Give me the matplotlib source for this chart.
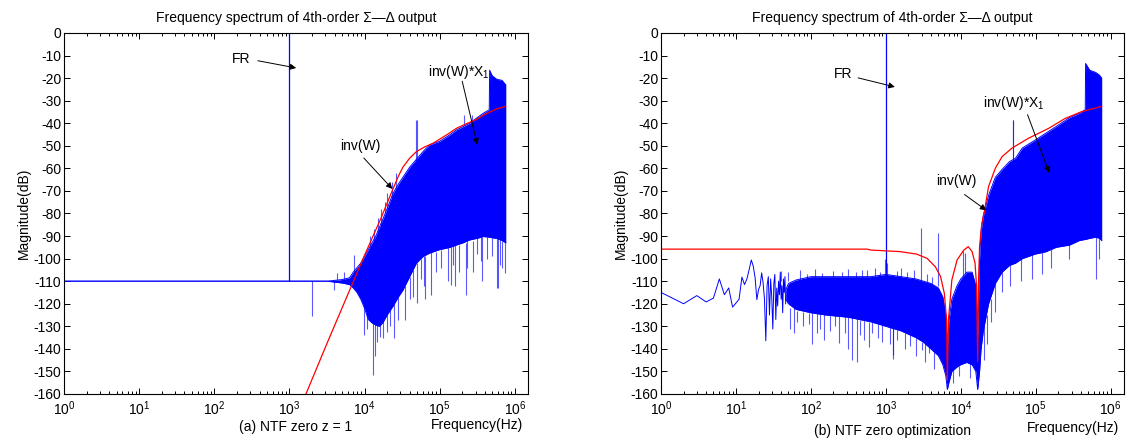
import numpy as np
import matplotlib
matplotlib.use("Agg")
import matplotlib.pyplot as plt
from matplotlib.ticker import LogLocator, FixedLocator, FuncFormatter, NullFormatter

plt.rcParams['font.family'] = ['Liberation Sans', 'DejaVu Sans']
plt.rcParams['mathtext.fontset'] = 'custom'
plt.rcParams['mathtext.rm'] = 'Liberation Sans'
plt.rcParams['mathtext.it'] = 'Liberation Sans'
plt.rcParams['mathtext.bf'] = 'Liberation Sans:bold'

# ---------------- data (frequencies as log10(Hz), magnitudes in dB) ----------------
title_text = "Frequency spectrum of 4th-order \u03a3\u2014\u0394 output"
caption_a = "(a) NTF zero z = 1"
caption_b = "(b) NTF zero optimization"
yticks = [0, -10, -20, -30, -40, -50, -60, -70, -80, -90, -100, -110, -120, -130, -140, -150, -160]
xtick_exponents = [0, 1, 2, 3, 4, 5, 6]

fr_freq = 1e3
fr_a = [-110, 0]
fr_b = [-107, 0]

# panel (a): dense noise core (lower / upper envelope)
env_a_log10f = [0, 3.5, 3.7, 3.8, 3.85, 3.9, 3.95, 4.0, 4.05, 4.1, 4.15, 4.2, 4.25, 4.3, 4.38,
                4.45, 4.51, 4.6, 4.69, 4.78, 4.87, 5.0, 5.14, 5.22, 5.31, 5.4, 5.5, 5.58, 5.66,
                5.665, 5.7, 5.76, 5.83, 5.88]
env_a_lo = [-110, -110, -110.8, -111.5, -113, -115, -118, -122, -127, -128.5, -129.5, -130, -128,
            -125, -121, -117, -114, -108, -102, -99, -97.5, -96, -95, -94, -93, -91.7, -91, -90.2,
            -90.5, -90.5, -90.8, -91, -92, -93]
env_a_hi = [-110, -110, -109.3, -108.5, -106, -104, -102, -99, -96, -93, -90, -86, -82, -78, -71,
            -67, -64, -59.5, -56, -52.5, -49.5, -48, -45, -43, -41.5, -40, -37.5, -35.6, -34,
            -16.5, -19, -20.5, -21, -23]
# panel (a): isolated spikes
spk_a_log10f = [3.30, 3.59, 3.63, 3.72, 3.86, 3.97, 3.99, 4.03, 4.116, 4.135, 4.16, 4.21, 4.24,
                4.30, 4.34, 4.39, 4.44, 4.535, 4.22, 4.30, 4.36, 4.42, 4.68, 4.70, 4.70, 4.79,
                4.80, 4.89, 5.11, 5.15, 5.21, 5.26, 5.33, 5.35, 5.37, 5.43, 5.44, 5.55, 5.56,
                5.76, 5.78, 5.83, 5.87, 4.60, 4.64, 4.75, 4.95, 5.02, 5.18, 5.50, 5.63, 5.70,
                5.80, 4.07, 4.12, 4.18, 4.27]
spk_a_top = [-110, -110, -106.5, -106, -98.4, -101.6, -110, -115, -128, -128, -128, -129, -127,
             -124, -122, -120, -117, -112, -85, -78, -73, -69, -57, -57, -102, -99, -99, -97,
             -95, -95, -94, -94, -41, -93, -92, -39, -92, -90.5, -90.5, -91, -91, -92, -92,
             -108, -105, -100, -97, -96, -94.5, -91, -90.5, -90.8, -91.5, -95, -92, -88, -80]
spk_a_bot = [-125.5, -113.7, -110, -110, -111, -118, -133.9, -131, -151.6, -143, -137, -134.6,
             -135, -132.6, -130, -135.3, -127, -127, -78, -71, -66, -62, -38.6, -38.6, -119.6,
             -112, -118, -116, -110, -111.7, -112.3, -106, -36.4, -116, -104, -36.5, -106, -101,
             -110, -113, -113, -104, -106.4, -118, -117, -109, -106, -104, -103, -98, -100, -99,
             -103, -90, -87, -82, -75]
# panel (a): inv(W)
red_a_log10f = [3.10, 3.22, 3.5, 3.84, 4.0, 4.22, 4.38, 4.45, 4.51, 4.6, 4.69, 4.8, 4.91, 5.11,
                5.22, 5.35, 5.49, 5.59, 5.76, 5.88]
red_a_db = [-170, -160, -137.6, -111, -98.5, -82, -69, -63.5, -59.5, -55.5, -52.6, -50.5, -48.9,
            -44.8, -42.3, -40.3, -38.3, -36.3, -33.6, -32.5]

# panel (b): individual low-frequency bins (Hz)
bins_b_f = [1, 2, 3, 4, 5, 6, 7, 8, 9, 10, 11, 12, 13, 14, 15, 16, 17, 18, 19, 20, 21, 22, 23,
            24, 25, 26, 27, 28, 29, 30, 31, 32, 33, 34, 35, 36, 37, 38, 39, 40, 41, 42, 43, 44,
            45, 46]
bins_b_db = [-115, -120, -116.4, -119.2, -117.5, -109, -116, -113, -121.5, -119.7, -118, -108.2,
             -111.5, -109, -104.8, -100.6, -103.3, -108.5, -118.2, -113.7, -112, -106.3, -110.7,
             -118, -136.4, -112, -108, -125, -109, -117, -131.2, -111, -107, -127, -113, -121,
             -110, -116, -106, -118, -112, -124, -109, -115, -108, -120]
# panel (b): dense noise core
env_b_log10f = [1.663, 1.7, 1.8, 2.0, 2.2, 2.5, 2.8, 3.0, 3.2, 3.4, 3.5, 3.6, 3.7, 3.76,
                3.8, 3.82, 3.84, 3.88, 3.95, 4.0, 4.08, 4.15, 4.2, 4.225, 4.25, 4.27, 4.3, 4.37,
                4.46, 4.55, 4.65, 4.73, 4.82, 4.99, 5.13, 5.27, 5.45, 5.58, 5.66, 5.665, 5.72,
                5.8, 5.85, 5.88]
env_b_lo = [-118, -120, -122.5, -124, -125, -126, -128, -130, -132, -135, -137, -140,
            -143, -147, -152, -158, -155, -150, -148, -147, -146, -147, -150, -158, -150, -140,
            -132, -120, -111, -106, -103, -102, -100, -98, -97, -95, -94, -92, -91.5, -91.5,
            -91, -90.5, -91, -92]
env_b_hi = [-114, -111, -109.5, -108, -108, -108, -108, -107, -108, -109, -110, -111,
            -113, -117, -125, -140, -128, -118, -112, -109, -106, -106, -112, -135, -100, -88,
            -81, -72, -64, -60.5, -57, -55.5, -51, -47.5, -44.5, -41.5, -37.5, -35.6, -34,
            -13.5, -16.5, -17.5, -18.7, -20]
# panel (b): isolated spikes
spk_b_log10f = [1.60, 2.15, 2.6, 2.75, 2.99, 3.01, 3.2, 3.47, 3.69, 4.03, 4.06, 4.69, 4.70,
                1.77, 2.08, 2.17, 2.37, 2.55, 2.61, 2.71, 3.09, 3.10, 3.32,
                3.48, 3.58, 4.31, 4.345, 4.40, 4.46, 4.55, 4.65, 4.80, 4.95, 5.08, 5.20, 5.44,
                5.81, 5.85,
                1.70, 1.85, 1.95, 2.05, 2.30, 2.42, 2.50, 2.68, 2.85, 2.92, 3.15, 3.28, 3.38,
                3.55, 3.62,
                1.72, 1.82, 1.90, 1.98, 2.02, 2.12, 2.25, 2.32, 2.45, 2.50, 2.65, 2.78, 2.82,
                2.90, 2.95, 3.05, 3.15, 3.25, 3.40, 3.52, 3.64, 3.90, 3.98, 4.12]
spk_b_top = [-110, -110, -110, -110, -108, -108, -109, -110, -112, -109, -107, -57, -57,
             -122, -124, -124, -125, -126, -126, -127, -130, -130, -133,
             -137, -139, -130, -125, -118, -111, -106, -103, -100, -98, -97, -95, -94,
             -90.5, -91,
             -110, -110, -110, -110, -110, -110, -110, -110, -110, -110, -110, -110, -110,
             -111, -112,
             -122, -123, -123.5, -124, -124, -124.5, -125, -125, -126, -126, -127, -128, -128,
             -129, -129.5, -130.5, -131.5, -133, -135, -137.5, -141, -149, -147.5, -146]
spk_b_bot = [-105.6, -106.4, -106, -105, -100, -102, -104, -86.4, -88.8, -96, -97.5, -38.6,
             -38.6, -133, -133, -136, -137.4, -144.8, -145.9, -136,
             -142.5, -144.4, -138.8, -140.3, -141.8, -145, -138, -128, -123.6, -115, -112,
             -110, -109, -107, -104, -100, -109, -100,
             -106, -105, -107, -104.5, -105.5, -106, -104.5, -105, -104, -106, -105.5, -106,
             -105, -107, -108,
             -131, -128, -130, -129, -138, -131, -132, -130, -133, -140, -134, -139, -133,
             -135, -137, -138, -136, -140, -143, -146, -149, -155, -152, -153]
# panel (b): inv(W)
red_b_log10f = [0, 2.75, 2.8, 3.19, 3.41, 3.55, 3.66, 3.73, 3.78, 3.81, 3.82, 3.835, 3.85, 3.88,
                3.95, 4.04, 4.10, 4.15, 4.19, 4.21, 4.225, 4.235, 4.25, 4.28, 4.31, 4.37, 4.46,
                4.55, 4.68, 4.90, 5.17, 5.39, 5.61, 5.88]
red_b_db = [-95.8, -95.8, -96.2, -96.9, -98, -99.9, -103.6, -108, -115.4, -127.2, -153.8, -127,
            -121.3, -109.5, -100.6, -96.2, -94.7, -96.9, -102, -112.4, -145.7, -112, -94.7,
            -84.4, -79.9, -68.1, -60, -54.8, -51.1, -46.7, -42.3, -37.9, -34.9, -32.5]

BLUE = '#0000ff'
RED = '#ff0000'
FS = 10


def hz(v):
    return np.power(10.0, np.asarray(v, dtype=float))


def style_axes(ax, caption, cap_y, freq_y):
    ax.set_xscale('log')
    ax.set_xlim(1, 1.5e6)
    ax.set_ylim(-160, 0)
    ax.yaxis.set_major_locator(FixedLocator(yticks))
    ax.yaxis.set_major_formatter(FuncFormatter(lambda v, p: '%d' % round(v)))
    ax.xaxis.set_major_locator(FixedLocator(hz(xtick_exponents)))
    ax.xaxis.set_major_formatter(FuncFormatter(
        lambda v, p: r'$\mathregular{10^{%d}}$' % round(np.log10(v))))
    ax.xaxis.set_minor_locator(LogLocator(base=10, subs=np.arange(2, 10), numticks=20))
    ax.xaxis.set_minor_formatter(NullFormatter())
    ax.tick_params(which='both', direction='in', top=True, right=True, labelsize=FS,
                   width=0.7, colors='black')
    ax.tick_params(which='major', length=4)
    ax.tick_params(axis='y', which='major', pad=2)
    ax.tick_params(axis='x', which='major', pad=4)
    ax.tick_params(which='minor', length=2.2)
    for s in ax.spines.values():
        s.set_linewidth(0.8)
    ax.set_title(title_text, fontsize=FS, pad=8)
    ax.set_ylabel('Magnitude(dB)', fontsize=FS, labelpad=2)
    ax.text(0.5, cap_y, caption, transform=ax.transAxes, ha='center', va='center', fontsize=FS)
    ax.text(0.99, freq_y, 'Frequency(Hz)', transform=ax.transAxes, ha='right', va='center',
            fontsize=FS)


def arrow(ax, tail, tip):
    ax.annotate('', xy=tip, xytext=tail,
                arrowprops=dict(arrowstyle='-|>', color='black', lw=0.7,
                                mutation_scale=9, shrinkA=0, shrinkB=0))


fig = plt.figure(figsize=(11.29, 4.41), dpi=100)
ax_a = fig.add_axes([0.0567, 0.1066, 0.411, 0.8186])
ax_b = fig.add_axes([0.5855, 0.1066, 0.410, 0.8186])

# ---- panel (a)
fa = hz(env_a_log10f)
ax_a.fill_between(fa, env_a_lo, env_a_hi, color=BLUE, lw=0)
ax_a.plot(fa, env_a_lo, color=BLUE, lw=0.7)
ax_a.plot(fa, env_a_hi, color=BLUE, lw=0.7)
ax_a.vlines(hz(spk_a_log10f), spk_a_bot, spk_a_top, color=BLUE, lw=0.8, alpha=0.65)
ax_a.vlines([fr_freq], fr_a[0], fr_a[1], color=BLUE, lw=0.9)
ax_a.plot(hz(red_a_log10f), red_a_db, color=RED, lw=0.9)
style_axes(ax_a, caption_a, -0.092, -0.087)

ax_a.text(hz(2.24), -11.5, 'FR', fontsize=FS, va='center', ha='left')
arrow(ax_a, (hz(2.58), -12.3), (hz(3.09), -15.5))
ax_a.text(hz(3.675), -49.9, 'inv(W)', fontsize=FS, va='center', ha='left')
arrow(ax_a, (hz(3.99), -55.4), (hz(4.37), -69.1))
ax_a.text(hz(4.845), -17.4, r'inv(W)*X$_1$', fontsize=FS, va='center', ha='left')
arrow(ax_a, (hz(5.30), -21.4), (hz(5.50), -49.5))

# ---- panel (b)
ax_b.plot(bins_b_f, bins_b_db, color=BLUE, lw=0.7)
fb = hz(env_b_log10f)
ax_b.fill_between(fb, env_b_lo, env_b_hi, color=BLUE, lw=0)
ax_b.plot(fb, env_b_lo, color=BLUE, lw=0.7)
ax_b.plot(fb, env_b_hi, color=BLUE, lw=0.7)
ax_b.vlines(hz(spk_b_log10f), spk_b_bot, spk_b_top, color=BLUE, lw=0.8, alpha=0.65)
ax_b.vlines([fr_freq], fr_b[0], fr_b[1], color=BLUE, lw=0.9)
ax_b.plot(hz(red_b_log10f), red_b_db, color=RED, lw=0.9)
style_axes(ax_b, caption_b, -0.102, -0.094)

ax_b.text(hz(2.30), -18, 'FR', fontsize=FS, va='center', ha='left')
arrow(ax_b, (hz(2.63), -19.9), (hz(3.12), -23.9))
ax_b.text(hz(3.67), -65.7, 'inv(W)', fontsize=FS, va='center', ha='left')
arrow(ax_b, (hz(4.05), -71.6), (hz(4.34), -78.6))
ax_b.text(hz(4.29), -31, r'inv(W)*X$_1$', fontsize=FS, va='center', ha='left')
arrow(ax_b, (hz(4.89), -36.2), (hz(5.18), -62))

fig.savefig('out.png', dpi=100)
